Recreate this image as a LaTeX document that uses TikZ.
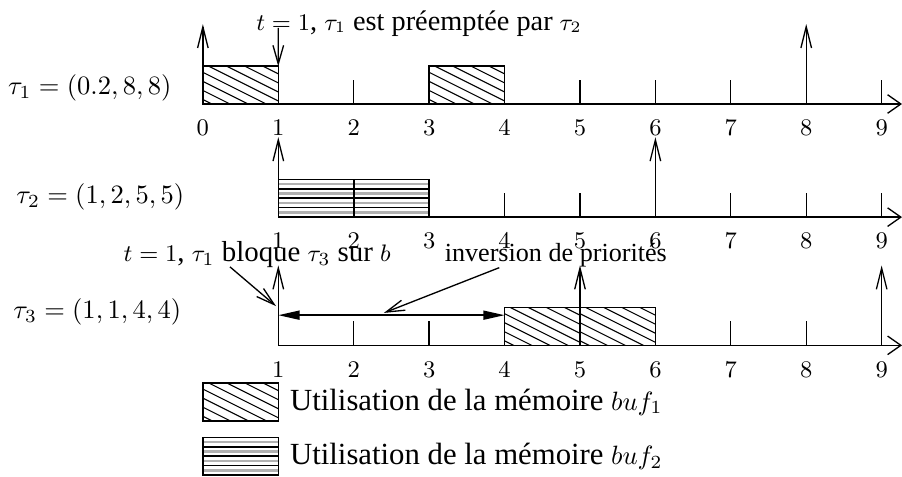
\documentclass[tikz,border=0pt]{standalone}
\usepackage{fontspec}
\setmainfont{Liberation Serif}[Scale=1.16]
\usetikzlibrary{
  arrows.meta,
  positioning,
  calc,
}
\tikzset{
  axisline/.style={line width=0.5pt, -{Straight Barb[length=5pt, width=7pt]}},
  tickline/.style={line width=0.5pt},
  relarrow/.style={line width=0.5pt, -{Straight Barb[length=8pt, width=4pt]}},
  noteline/.style={line width=0.5pt, -{Straight Barb[length=7pt, width=4pt]}},
  waitarrow/.style={
    line width=0.6pt,
    {Triangle[length=8pt, width=3.4pt]}-{Triangle[length=8pt, width=3.4pt]}
  },
  ticklabel/.style={font=\small, inner sep=1pt},
  tasklabel/.style={anchor=east, inner sep=0pt},
  notelabel/.style={inner sep=1pt},
  keytext/.style={inner sep=0pt, anchor=west},
  unitbox/.style={
    draw, line width=0.6pt, anchor=south west, inner sep=0pt, outer sep=0pt,
    minimum width=1cm, minimum height=0.5cm
  },
  hatchbox/.style={unitbox,
    path picture={
      \foreach \k in {0,...,9}
        \draw[line width=0.4pt]
          ($(path picture bounding box.south west)+(0,0.06+0.12*\k)$) -- ++(1,-0.5);
    }},
  stripebox/.style={unitbox,
    path picture={
      \foreach \k in {1,3,5,7}
        \draw[line width=0.9pt, black!30]
          ($(path picture bounding box.south west)+(0,0.0625*\k)$) -- ++(1,0);
      \foreach \k in {1,2,3}
        \draw[line width=0.6pt]
          ($(path picture bounding box.south west)+(0,0.125*\k)$) -- ++(1,0);
    }},
}

\begin{document}
\begin{tikzpicture}
  \useasboundingbox (-2.69,-4.934) rectangle (9.27,1.379);

  % ── Time axes ──
  \foreach \a/\y/\s in {1/0/0, 2/-1.5/1, 3/-3.2/1} {
    \foreach \t in {0,...,9}
      \coordinate (a\a-\t) at (\t,\y);
    \coordinate (a\a-end) at (9.27,\y);
    \draw[axisline] (a\a-\s) -- (a\a-end);
    \foreach \t in {1,...,9}
      \draw[tickline] (a\a-\t) -- ++(0,0.32);
    \foreach \t in {\s,...,9}
      \node[ticklabel] (n\a-\t) at ($(a\a-\t)+(0,-0.32)$) {$\t$};
  }

  % ── Executions ──
  \node[hatchbox] (j1a) at (a1-0) {};
  \node[hatchbox] (j1b) at (a1-3) {};
  \node[stripebox] (j2a) at (a2-1) {};
  \node[stripebox] (j2b) at (a2-2) {};
  \node[hatchbox] (j3a) at (a3-4) {};
  \node[hatchbox] (j3b) at (a3-5) {};

  % ── Releases ──
  \foreach \a/\t in {1/0, 1/8, 2/1, 2/6, 3/1, 3/5, 3/9}
    \draw[relarrow] (a\a-\t) -- ++(0,1.06);

  % ── Tasks ──
  \node[tasklabel] (T1) at (-0.41,0.21) {$\tau_1 = (0.2, 8, 8)$};
  \node[tasklabel] (T2) at (-0.24,-1.23) {$\tau_2 = (1, 2, 5, 5)$};
  \node[tasklabel] (T3) at (-0.28,-2.76) {$\tau_3 = (1, 1, 4, 4)$};

  % ── Preemption of tau1 ──
  \node[notelabel, font=\fontsize{9.2}{11}\selectfont] (preempt) at (2.865,1.07)
    {$t = 1$, $\tau_1$ est préemptée par $\tau_2$};
  \coordinate (preempt-from) at (1,1.01);
  \draw[noteline] (preempt-from) -- (j1a.north east);

  % ── Blocking and priority inversion ──
  \coordinate (w3-1) at ($(a3-1)+(0,0.4)$);
  \coordinate (w3-4) at ($(a3-4)+(0,0.4)$);
  \draw[waitarrow] (w3-1) -- (w3-4);

  \node[notelabel, font=\fontsize{9.4}{11}\selectfont] (blknote) at (0.72,-2.0)
    {$t = 1$, $\tau_1$ bloque $\tau_3$ sur $b$};
  \coordinate (blk-from) at (0.36,-2.16);
  \coordinate (blk-to) at (0.97,-2.68);
  \draw[noteline] (blk-from) -- (blk-to);

  \node[notelabel, font=\fontsize{8.5}{10}\selectfont] (invnote) at (4.68,-2.0)
    {inversion de priorités};
  \coordinate (inv-from) at (3.93,-2.17);
  \coordinate (inv-to) at (2.40,-2.77);
  \draw[noteline] (inv-from) -- (inv-to);

  % ── Legend ──
  \node[hatchbox] (key1) at (0,-4.2) {};
  \node[stripebox] (key2) at (0,-4.92) {};
  \node[keytext, right=0.15cm of key1] (key1txt) {Utilisation de la mémoire $buf_1$};
  \node[keytext, right=0.15cm of key2] (key2txt) {Utilisation de la mémoire $buf_2$};

\end{tikzpicture}
\end{document}
